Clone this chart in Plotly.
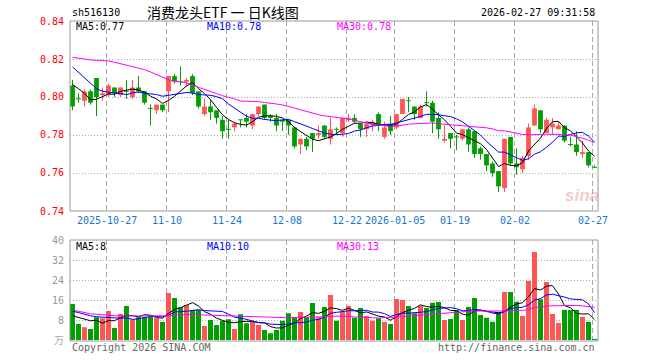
import plotly.graph_objects as go
import pandas as pd

# ---------------- data ----------------
open_ = [0.806, 0.799, 0.798, 0.803, 0.810, 0.801, 0.801, 0.805, 0.801, 0.803,
         0.800, 0.805, 0.803, 0.794, 0.793, 0.796, 0.803, 0.811, 0.808, 0.808,
         0.811, 0.803, 0.791, 0.795, 0.793, 0.788, 0.783, 0.784, 0.788, 0.789,
         0.785, 0.791, 0.796, 0.790, 0.789, 0.788, 0.788, 0.784, 0.775, 0.778,
         0.781, 0.780, 0.785, 0.778, 0.783, 0.781, 0.788, 0.789, 0.786, 0.783,
         0.785, 0.791, 0.779, 0.786, 0.784, 0.791, 0.798, 0.795, 0.789, 0.797,
         0.797, 0.789, 0.777, 0.781, 0.779, 0.778, 0.783, 0.782, 0.773, 0.770,
         0.765, 0.761, 0.752, 0.779, 0.765, 0.762, 0.769, 0.785, 0.793, 0.781,
         0.784, 0.783, 0.785, 0.775, 0.775, 0.770, 0.771, 0.763]
high = [0.809, 0.802, 0.804, 0.804, 0.810, 0.805, 0.807, 0.805, 0.805, 0.809,
        0.809, 0.811, 0.803, 0.796, 0.796, 0.796, 0.811, 0.812, 0.816, 0.810,
        0.812, 0.803, 0.799, 0.799, 0.793, 0.790, 0.788, 0.787, 0.788, 0.791,
        0.791, 0.795, 0.796, 0.791, 0.791, 0.788, 0.788, 0.784, 0.778, 0.779,
        0.781, 0.785, 0.785, 0.789, 0.784, 0.789, 0.791, 0.791, 0.786, 0.787,
        0.788, 0.792, 0.787, 0.790, 0.791, 0.799, 0.800, 0.795, 0.796, 0.803,
        0.798, 0.792, 0.785, 0.781, 0.780, 0.783, 0.784, 0.782, 0.774, 0.770,
        0.766, 0.761, 0.778, 0.779, 0.773, 0.769, 0.786, 0.796, 0.793, 0.789,
        0.789, 0.787, 0.785, 0.779, 0.782, 0.777, 0.771, 0.764]
low = [0.793, 0.797, 0.795, 0.796, 0.790, 0.798, 0.800, 0.800, 0.800, 0.799,
       0.799, 0.802, 0.796, 0.785, 0.791, 0.792, 0.792, 0.807, 0.806, 0.806,
       0.801, 0.794, 0.790, 0.788, 0.786, 0.778, 0.778, 0.782, 0.784, 0.784,
       0.783, 0.790, 0.788, 0.787, 0.782, 0.782, 0.780, 0.773, 0.770, 0.772,
       0.771, 0.778, 0.778, 0.775, 0.780, 0.779, 0.787, 0.786, 0.779, 0.779,
       0.782, 0.782, 0.778, 0.780, 0.783, 0.791, 0.792, 0.788, 0.789, 0.795,
       0.781, 0.778, 0.776, 0.773, 0.772, 0.777, 0.771, 0.768, 0.767, 0.761,
       0.758, 0.750, 0.750, 0.764, 0.759, 0.760, 0.767, 0.785, 0.781, 0.781,
       0.780, 0.783, 0.776, 0.774, 0.769, 0.768, 0.763, 0.763]
close = [0.795, 0.799, 0.803, 0.797, 0.800, 0.802, 0.806, 0.802, 0.805, 0.803,
         0.805, 0.803, 0.797, 0.794, 0.796, 0.793, 0.811, 0.808, 0.808, 0.809,
         0.802, 0.795, 0.795, 0.792, 0.789, 0.782, 0.783, 0.786, 0.788, 0.787,
         0.791, 0.795, 0.789, 0.789, 0.785, 0.787, 0.785, 0.774, 0.778, 0.774,
         0.778, 0.781, 0.779, 0.783, 0.783, 0.789, 0.789, 0.787, 0.783, 0.786,
         0.787, 0.785, 0.784, 0.782, 0.791, 0.799, 0.798, 0.791, 0.795, 0.797,
         0.787, 0.783, 0.778, 0.778, 0.779, 0.783, 0.775, 0.770, 0.770, 0.764,
         0.760, 0.753, 0.778, 0.765, 0.763, 0.768, 0.784, 0.794, 0.783, 0.788,
         0.786, 0.785, 0.777, 0.775, 0.771, 0.771, 0.764, 0.763]
volume = [14.4, 6.4, 5.1, 4.4, 9.1, 8.7, 11.6, 4.8, 10.4, 13.6,
          8.3, 9.1, 9.1, 9.6, 8.7, 7.2, 18.8, 16.8, 13.1, 14.0,
          12.0, 12.0, 5.6, 8.0, 6.0, 7.7, 8.3, 4.4, 10.3, 6.7,
          7.3, 6.0, 4.0, 2.7, 4.0, 7.7, 10.7, 9.1, 11.2, 9.1,
          14.8, 9.1, 13.2, 18.0, 7.7, 11.3, 13.6, 8.9, 12.8, 9.6,
          7.7, 8.7, 7.2, 6.4, 16.4, 16.0, 13.6, 10.7, 13.7, 12.8,
          14.9, 15.2, 8.0, 8.4, 12.0, 8.0, 13.2, 16.8, 10.0, 8.9,
          7.3, 11.2, 19.2, 19.2, 15.3, 9.6, 23.6, 35.2, 16.3, 23.2,
          10.4, 6.8, 12.0, 12.0, 12.0, 9.2, 7.2, 0.4]

# moving-average values before the window fills
ma5_head = [0.8065, 0.8044, 0.8018, 0.7986]
ma10_head = [0.8158, 0.8130, 0.8098, 0.8070, 0.8044, 0.8030, 0.8025, 0.8021, 0.8019]
ma30_head = [0.8209, 0.8204, 0.8198, 0.8195, 0.8193, 0.8191, 0.8190, 0.8183, 0.8175,
             0.8168, 0.8161, 0.8153, 0.8144, 0.8132, 0.8119, 0.8105, 0.8091, 0.8084,
             0.8081, 0.8074, 0.8065, 0.8051, 0.8039, 0.8026, 0.8018, 0.8007, 0.8000,
             0.7990, 0.7979]
vma5_head = [9.7, 9.1, 8.4, 7.7]
vma10_head = [11.6, 10.9, 10.3, 9.7, 9.3, 9.1, 8.9, 8.8, 8.7]
vma30_head = [12.0, 11.5, 10.9, 10.5, 10.3, 10.0, 9.9, 9.7, 9.6, 9.6, 9.6, 9.6, 9.6,
              9.5, 9.5, 9.5, 9.7, 10.0, 10.1, 10.3, 10.3, 10.1, 10.0, 9.9, 9.7, 9.6,
              9.5, 9.5, 9.5]

date_tick_idx = [6, 16, 26, 36, 46, 54, 64, 74, 87]
date_tick_text = ["2025-10-27", "11-10", "11-24", "12-08", "12-22", "2026-01-05",
                  "01-19", "02-02", "02-27"]
price_ticks = [0.74, 0.76, 0.78, 0.80, 0.82, 0.84]
price_tick_text = ["0.74", "0.76", "0.78", "0.80", "0.82", "0.84"]
vol_ticks = [8, 16, 24, 32, 40]

symbol = "sh516130"
title = "消费龙头ETF 一 日K线图"
stamp = "2026-02-27 09:31:58"
price_legend = ["MA5:0.77", "MA10:0.78", "MA30:0.78"]
vol_legend = ["MA5:8", "MA10:10", "MA30:13"]

# ---------------- styles ----------------
W, H = 660, 360
RED, GREEN = "#ff5555", "#00a000"
MA_COLORS = ["#000000", "#0000ff", "#ff00ff"]
MONO = "DejaVu Sans Mono"
X0, X1 = 70, 598
MAIN_T, MAIN_B = 21, 211
VOL_T, VOL_B = 240, 340
STEP = 6.0
C0 = 72.5  # pixel centre of first candle


def px_x(p):
    return p / W


def px_y(p):
    return 1 - p / H


def rolling(vals, n, head):
    s = pd.Series(vals, dtype=float).rolling(n).mean()
    s.iloc[:n - 1] = head
    return s.tolist()


n = len(close)
idx = list(range(n))
is_up = [c > o for o, c in zip(open_, close)]

fig = go.Figure()

# wicks
for up, col in [(True, RED), (False, GREEN)]:
    wx, wy = [], []
    for i in idx:
        if is_up[i] == up:
            wx += [i, i, None]
            wy += [low[i], high[i], None]
    fig.add_trace(go.Scatter(x=wx, y=wy, mode="lines", line=dict(color=col, width=1),
                             hoverinfo="skip", showlegend=False, xaxis="x", yaxis="y"))

# bodies
for up, col in [(True, RED), (False, GREEN)]:
    bx = [i for i in idx if is_up[i] == up and open_[i] != close[i]]
    fig.add_trace(go.Bar(x=bx, y=[abs(close[i] - open_[i]) for i in bx],
                         base=[min(open_[i], close[i]) for i in bx], width=0.8,
                         marker=dict(color=col, line=dict(width=0)),
                         showlegend=False, xaxis="x", yaxis="y"))
# doji crosses
dx, dy = [], []
for i in idx:
    if open_[i] == close[i]:
        dx += [i - 0.4, i + 0.4, None]
        dy += [close[i], close[i], None]
fig.add_trace(go.Scatter(x=dx, y=dy, mode="lines", line=dict(color=GREEN, width=1),
                         showlegend=False, xaxis="x", yaxis="y"))

# price MAs
for (nn, head), col in zip([(5, ma5_head), (10, ma10_head), (30, ma30_head)], MA_COLORS):
    fig.add_trace(go.Scatter(x=idx, y=rolling(close, nn, head), mode="lines",
                             line=dict(color=col, width=1), showlegend=False,
                             xaxis="x", yaxis="y"))

# volume bars
fig.add_trace(go.Bar(x=idx, y=volume, width=0.83,
                     marker=dict(color=[RED if u else GREEN for u in is_up], line=dict(width=0)),
                     showlegend=False, xaxis="x2", yaxis="y2"))
for (nn, head), col in zip([(5, vma5_head), (10, vma10_head), (30, vma30_head)], MA_COLORS):
    fig.add_trace(go.Scatter(x=idx, y=rolling(volume, nn, head), mode="lines",
                             line=dict(color=col, width=1), showlegend=False,
                             xaxis="x2", yaxis="y2"))

xr = [(X0 - C0) / STEP, (X1 - C0) / STEP]
grid_x = [i - 0.3 for i in date_tick_idx]
xa = dict(range=xr, domain=[px_x(X0), px_x(X1)], showticklabels=False, ticks="",
          tickmode="array", tickvals=grid_x, showgrid=True, gridcolor="#aaaaaa",
          griddash="5px,3px", gridwidth=1, zeroline=False, showline=False)
fig.update_layout(
    width=W, height=H, margin=dict(l=0, r=0, t=0, b=0),
    paper_bgcolor="white", plot_bgcolor="white", barmode="overlay",
    xaxis=dict(xa, anchor="y"),
    xaxis2=dict(xa, anchor="y2"),
    yaxis=dict(range=[0.74, 0.84], domain=[px_y(MAIN_B), px_y(MAIN_T)],
               tickmode="array", tickvals=price_ticks[1:-1], showticklabels=False,
               showgrid=True, gridcolor="#aaaaaa", griddash="1px,2px", zeroline=False,
               anchor="x"),
    yaxis2=dict(range=[0, 40], domain=[px_y(VOL_B), px_y(VOL_T)],
                tickmode="array", tickvals=vol_ticks[:-1], showticklabels=False,
                showgrid=True, gridcolor="#aaaaaa", griddash="1px,2px", zeroline=False,
                anchor="x2"),
    showlegend=False,
    hovermode=False,
)

shapes = []
for t, b in [(MAIN_T, MAIN_B), (VOL_T, VOL_B + 1)]:
    shapes.append(dict(type="rect", xref="paper", yref="paper",
                       x0=px_x(X0), x1=px_x(X1), y0=px_y(b), y1=px_y(t),
                       line=dict(color="#999999", width=1)))
fig.update_layout(shapes=shapes)

ann = []


def text(x, y, s, color="#000", size=10, xanchor="left", family=MONO, **kw):
    ann.append(dict(x=px_x(x), y=px_y(y), xref="paper", yref="paper", text=s,
                    showarrow=False, xanchor=xanchor, yanchor="middle",
                    font=dict(family=family, size=size, color=color), **kw))


text(70, 13, symbol)
text(223, 12.5, title, size=14, xanchor="center", family="Noto Sans CJK SC")
text(597, 13, stamp, xanchor="right")

for v, s in zip(price_ticks, price_tick_text):
    yy = MAIN_B - (v - 0.74) / 0.10 * (MAIN_B - MAIN_T)
    text(66, yy, s, color="#ff0000", xanchor="right")
for v in vol_ticks:
    yy = VOL_B - v / 40 * (VOL_B - VOL_T)
    text(66, yy, str(v), color="#999999", xanchor="right")
text(66, 339, "万", color="#aaaaaa", size=10, xanchor="right", family="Noto Sans CJK SC")

for gx, s in zip(grid_x, date_tick_text):
    text(C0 + gx * STEP, 220, s, color="#1478d2", xanchor="center")

for xl, s, col in zip([74, 205, 335], price_legend, MA_COLORS):
    text(xl, 26.5, s, color=col)
for xl, s, col in zip([74, 205, 335], vol_legend, MA_COLORS):
    text(xl, 246.5, s, color=col)

text(70, 347, "Copyright 2026 SINA.COM", color="#666666")
text(597, 347, "http://finance.sina.com.cn", color="#666666", xanchor="right")
text(582, 196, "<b><i>sina</i></b>", color="rgba(225,140,140,0.45)", size=17,
     xanchor="center", family="Arial")

fig.update_layout(annotations=ann)
# remove the browser's default page margin so the 660x360 figure fills the window
fig.write_html("out.html", config={"displayModeBar": False, "staticPlot": True},
               post_script="document.body.style.margin='0';")
